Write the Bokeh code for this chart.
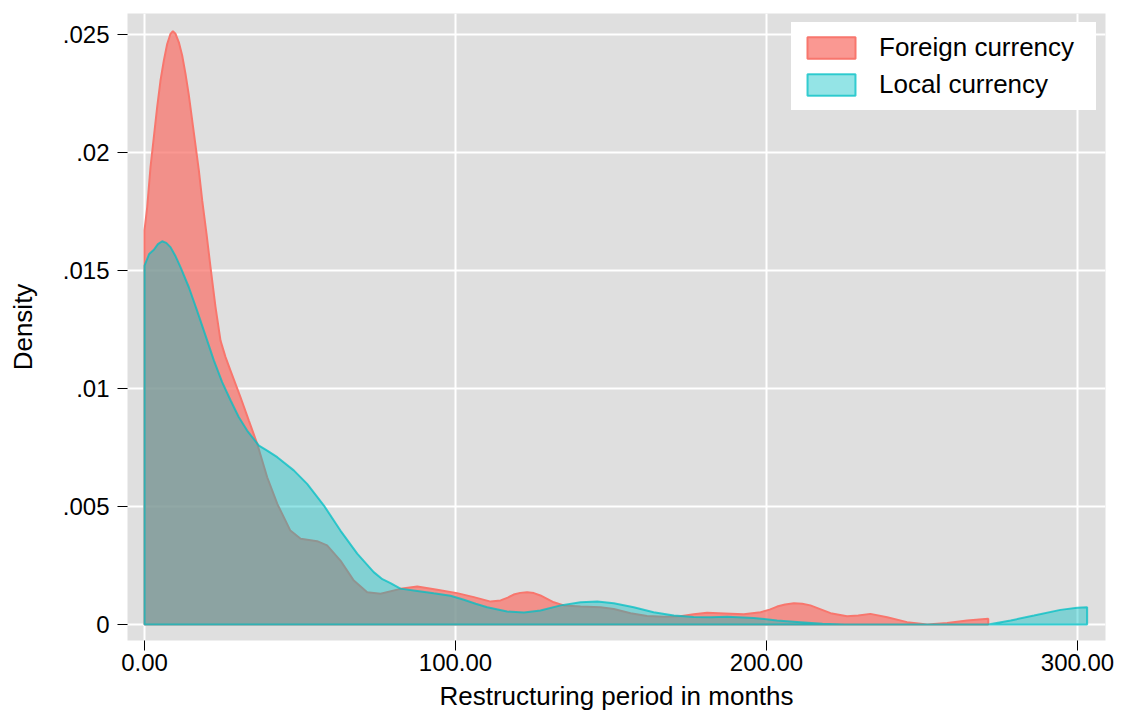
from bokeh.plotting import figure
from bokeh.models import FixedTicker, CustomJSTickFormatter, Legend, LegendItem, Range1d
from bokeh.embed import file_html
from bokeh.resources import INLINE

# ---- data ----
series_names = ["Foreign currency", "Local currency"]

foreign_x = [0, 0.86, 1.93, 3.0, 4.07, 5.14, 6.22, 7.29, 8.36, 9.11, 9.97, 11.04, 12.11,
             13.18, 14.26, 15.33, 17.47, 18.55, 19.94, 21.22, 22.83, 24.44, 26.05, 27.65,
             30.87, 33.55, 36.23, 39.45, 42.7, 46.9, 50.2, 55.5, 58.7, 63.0, 67.3, 71.6,
             75.9, 82.3, 87.7, 94.1, 100.5, 105.9, 111.3, 114.5, 116.8, 118.7, 120.8, 123.0,
             125.2, 127.3, 131.6, 134.8, 140.2, 146.6, 150.9, 156.3, 161.6, 167.0, 172.3,
             176.6, 180.9, 186.5, 192.7, 198.1, 201.0, 203.4, 206.0, 208.8, 211.5, 214.1,
             220.6, 225.9, 229.5, 233.4, 238.8, 245.2, 251.7, 258.1, 264.5, 271.3]
foreign_y = [0.0167, 0.01768, 0.01938, 0.02065, 0.02192, 0.02305, 0.0239, 0.0246, 0.02503,
             0.02514, 0.02503, 0.02467, 0.02411, 0.02333, 0.02242, 0.02136, 0.01924, 0.01797,
             0.01655, 0.01514, 0.01345, 0.01203, 0.01133, 0.01076, 0.00963, 0.00864, 0.00766,
             0.00624, 0.00511, 0.00398, 0.00363, 0.00353, 0.00335, 0.00271, 0.00186, 0.00137,
             0.0013, 0.00151, 0.00161, 0.00147, 0.00133, 0.00116, 0.00097, 0.00102, 0.00114,
             0.00127, 0.00134, 0.00137, 0.00133, 0.00123, 0.00094, 0.00081, 0.00076, 0.00073,
             0.00066, 0.00048, 0.00036, 0.00033, 0.00035, 0.00043, 0.0005, 0.00047, 0.00043,
             0.00052, 0.00063, 0.00076, 0.00085, 0.0009, 0.00088, 0.00081, 0.00048, 0.00035,
             0.00038, 0.00045, 0.00031, 0.0001, 0.0, 0.00006, 0.00017, 0.00024]

local_x = [0, 1.5, 3.0, 4.3, 5.68, 7.0, 8.36, 10.0, 11.58, 14.26, 16.9, 19.6, 22.3, 24.97,
           27.7, 30.3, 33.0, 36.8, 39.45, 42.7, 48.0, 52.3, 57.7, 63.0, 68.4, 73.7, 76.5,
           79.1, 82.3, 87.7, 93.0, 98.4, 102.7, 106.5, 110.2, 116.6, 122.0, 127.3, 133.8,
           140.2, 145.6, 150.9, 157.3, 163.7, 170.2, 176.6, 182.0, 187.4, 195.9, 203.4,
           210.9, 218.0, 225.0, 271.3, 278.5, 286.0, 294.5, 299.9, 303.1]
local_y = [0.01521, 0.0157, 0.01588, 0.01612, 0.01624, 0.01617, 0.01599, 0.0156, 0.01514,
           0.01429, 0.0133, 0.01225, 0.01119, 0.01027, 0.00949, 0.00879, 0.00822, 0.00758,
           0.00737, 0.00709, 0.00653, 0.00596, 0.00504, 0.00398, 0.003, 0.00222, 0.00192,
           0.00175, 0.00152, 0.00142, 0.00132, 0.00122, 0.00105, 0.00088, 0.00073, 0.00055,
           0.00051, 0.00059, 0.00081, 0.00094, 0.00097, 0.0009, 0.00073, 0.00052, 0.00038,
           0.00032, 0.00031, 0.00033, 0.00028, 0.00017, 0.0001, 0.00003, 0.0, 0.0, 0.00017,
           0.00038, 0.00062, 0.00071, 0.00073]

x_ticks = [0, 100, 200, 300]
x_tick_labels = ["0.00", "100.00", "200.00", "300.00"]
y_ticks = [0, 0.005, 0.01, 0.015, 0.02, 0.025]
y_tick_labels = ["0", ".005", ".01", ".015", ".02", ".025"]

x_title = "Restructuring period in months"
y_title = "Density"

FONT = "Liberation Sans"
RED = "#F8766D"
TEAL = "#00BFC4"

p = figure(width=1121, height=718, output_backend="svg", toolbar_location=None,
           x_range=Range1d(-5.47, 309.0), y_range=Range1d(-0.000678, 0.02589),
           min_border_left=127, min_border_right=16, min_border_top=13, min_border_bottom=78)
p.background_fill_color = "#DFDFDF"
p.border_fill_color = "white"
p.outline_line_color = None


def closed(xs, ys):
    return [xs[0]] + list(xs) + [xs[-1]], [0.0] + list(ys) + [0.0]


fx, fy = closed(foreign_x, foreign_y)
lx, ly = closed(local_x, local_y)

r_f = p.patch(fx, fy, fill_color=RED, fill_alpha=0.75, line_color=RED, line_width=2,
              line_alpha=1.0)
r_l = p.patch(lx, ly, fill_color=TEAL, fill_alpha=0.42, line_color=TEAL, line_width=2,
              line_alpha=0.75)

fmt_code = """
let best = 0; let d = Infinity;
for (let i = 0; i < tvals.length; i++) {
  const e = Math.abs(tvals[i] - tick);
  if (e < d) { d = e; best = i; }
}
return tlabels[best];
"""
p.xaxis.ticker = FixedTicker(ticks=x_ticks)
p.yaxis.ticker = FixedTicker(ticks=y_ticks)
p.xaxis.formatter = CustomJSTickFormatter(args=dict(tvals=x_ticks, tlabels=x_tick_labels), code=fmt_code)
p.yaxis.formatter = CustomJSTickFormatter(args=dict(tvals=y_ticks, tlabels=y_tick_labels), code=fmt_code)

for ax in (p.xaxis, p.yaxis):
    ax.axis_line_color = None
    ax.major_tick_line_color = "black"
    ax.major_tick_line_width = 1
    ax.major_tick_out = 10
    ax.major_tick_in = 0
    ax.minor_tick_line_color = None
    ax.major_label_text_font = FONT
    ax.major_label_text_font_size = "24px"
    ax.major_label_text_color = "black"
    ax.axis_label_text_font = FONT
    ax.axis_label_text_font_size = "26px"
    ax.axis_label_text_font_style = "normal"
    ax.axis_label_text_color = "black"

p.xaxis.axis_label = x_title
p.yaxis.axis_label = y_title
p.xaxis.major_label_standoff = 3
p.xaxis.axis_label_standoff = 7
p.yaxis.major_label_standoff = 8
p.yaxis.axis_label_standoff = 22

p.grid.grid_line_color = "white"
p.grid.grid_line_width = 2
p.xgrid.ticker = FixedTicker(ticks=x_ticks)
p.ygrid.ticker = FixedTicker(ticks=y_ticks)

legend = Legend(items=[LegendItem(label=series_names[0], renderers=[r_f]),
                       LegendItem(label=series_names[1], renderers=[r_l])],
                location="top_right")
legend.margin = 9
legend.padding = 0
legend.spacing = 6
legend.glyph_width = 60
legend.glyph_height = 27
legend.label_standoff = 18
legend.label_width = 207
legend.label_text_font = FONT
legend.label_text_font_size = "26px"
legend.label_text_color = "black"
legend.label_text_baseline = "middle"
# a white border stands in for the inner padding of the white legend box
legend.border_line_color = "white"
legend.border_line_width = 10
legend.border_line_join = "miter"
legend.background_fill_color = "white"
legend.background_fill_alpha = 1.0
p.add_layout(legend)

open("out.html", "w").write(file_html(p, INLINE))
